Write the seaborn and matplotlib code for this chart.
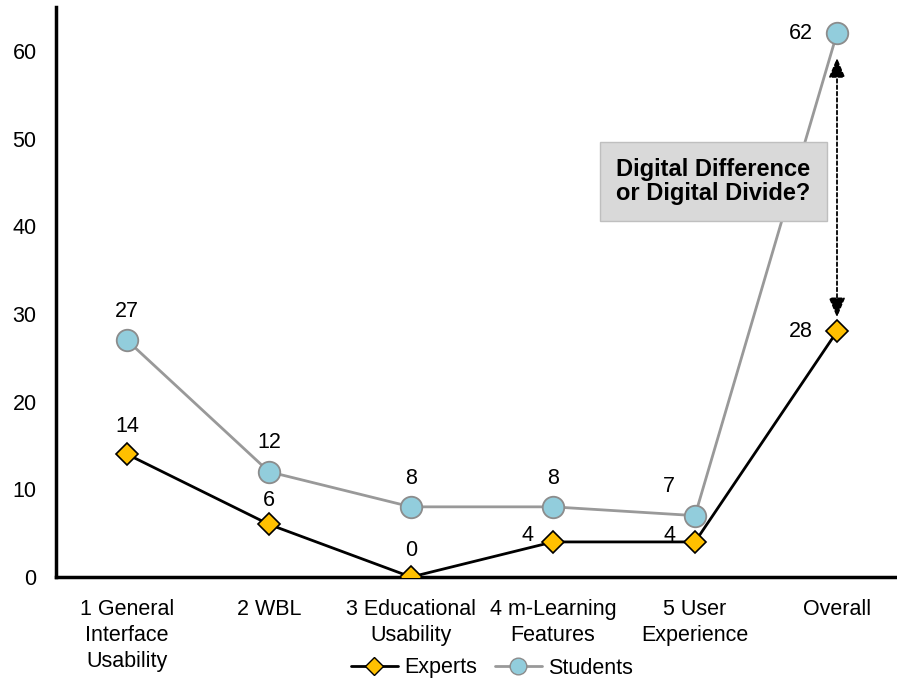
import numpy as np
import pandas as pd
import matplotlib
matplotlib.use('Agg')
import matplotlib.pyplot as plt
import seaborn as sns
from matplotlib.lines import Line2D

categories = ['1 General\nInterface\nUsability', '2 WBL', '3 Educational\nUsability',
              '4 m-Learning\nFeatures', '5 User\nExperience', 'Overall']
experts = [14, 6, 0, 4, 4, 28]
students = [27, 12, 8, 8, 7, 62]

df = pd.DataFrame({'pos': np.arange(len(categories)), 'Experts': experts, 'Students': students})

sns.set_style('white')
plt.rcParams['font.family'] = ['Liberation Sans', 'DejaVu Sans']
plt.rcParams['font.size'] = 15.5
plt.rcParams['text.color'] = 'black'
plt.rcParams['xtick.color'] = 'black'
plt.rcParams['ytick.color'] = 'black'
plt.rcParams['xtick.labelcolor'] = 'black'
plt.rcParams['ytick.labelcolor'] = 'black'

fig = plt.figure(figsize=(8.97, 6.86), dpi=100)
ax = fig.add_axes([56 / 897, 109 / 686, 852 / 897, 570 / 686])

# students first so experts draw on top
sns.lineplot(data=df, x='pos', y='Students', ax=ax, color='#999999', linewidth=2,
             marker='o', markersize=15.5, markerfacecolor='#92CDDC',
             markeredgecolor='#8C8C8C', markeredgewidth=1.3, zorder=3)
sns.lineplot(data=df, x='pos', y='Experts', ax=ax, color='black', linewidth=2,
             marker='D', markersize=11.5, markerfacecolor='#FFC000',
             markeredgecolor='black', markeredgewidth=1.2, zorder=4)

fs = 15.5
# data labels (pixel offsets from the point)
exp_off = [(0, 28), (0, 24), (0, 27), (-26, 6), (-26, 6), (-36, 0)]
stu_off = [(0, 29), (0, 29), (0, 28), (0, 28), (-26, 29), (-36, 0)]
for i, (v, off) in enumerate(zip(experts, exp_off)):
    ax.annotate(str(v), (i, v), xytext=off, textcoords='offset pixels',
                ha='center', va='center', fontsize=fs, zorder=6)
for i, (v, off) in enumerate(zip(students, stu_off)):
    ax.annotate(str(v), (i, v), xytext=off, textcoords='offset pixels',
                ha='center', va='center', fontsize=fs, zorder=6)

# double-headed dashed arrow between the two overall values
ax.annotate('', xy=(5.0, 29.6), xytext=(5.0, 59.2),
            arrowprops=dict(arrowstyle='<|-|>,head_length=0.6,head_width=0.25', color='black', lw=1.3,
                            linestyle=(0, (2, 1.5)), mutation_scale=20,
                            shrinkA=0, shrinkB=0), zorder=5)

ax.text(4.13, 45.1, 'Digital Difference\nor Digital Divide?', ha='center', va='center',
        fontsize=17, fontweight='bold', linespacing=1.1, zorder=5,
        bbox=dict(boxstyle='square,pad=0.68', facecolor='#D9D9D9', edgecolor='#BFBFBF', lw=1))

ax.set_xlim(-0.5, 5.5)
ax.set_ylim(0, 65)
ax.set_yticks(np.arange(0, 61, 10))
ax.set_xticks(np.arange(-0.5, 5.6, 1.0))
ax.set_xticklabels([])
ax.set_xticks(np.arange(len(categories)), minor=True)
ax.set_xticklabels(categories, minor=True, fontsize=fs, linespacing=1.32, va='top')
ax.tick_params(axis='x', which='major', direction='out', length=6, width=2, color='black')
ax.tick_params(axis='x', which='minor', length=0, pad=16)
ax.tick_params(axis='y', direction='out', length=6, width=2, color='black', labelsize=fs, pad=8)
ax.set_xlabel('')
ax.set_ylabel('')

sns.despine(ax=ax, top=True, right=True)
for s in ['left', 'bottom']:
    ax.spines[s].set_linewidth(2.5)
    ax.spines[s].set_color('black')

handles = [
    Line2D([], [], color='black', lw=2, marker='D', markersize=9,
           markerfacecolor='#FFC000', markeredgecolor='black', label='Experts'),
    Line2D([], [], color='#999999', lw=2, marker='o', markersize=12,
           markerfacecolor='#92CDDC', markeredgecolor='#8C8C8C', label='Students'),
]
fig.legend(handles=handles, loc='center', bbox_to_anchor=(492 / 897, 1 - 668 / 686),
           ncol=2, frameon=False, fontsize=fs, handlelength=2.2,
           handletextpad=0.3, columnspacing=0.8)

fig.savefig('out.png', dpi=100)
